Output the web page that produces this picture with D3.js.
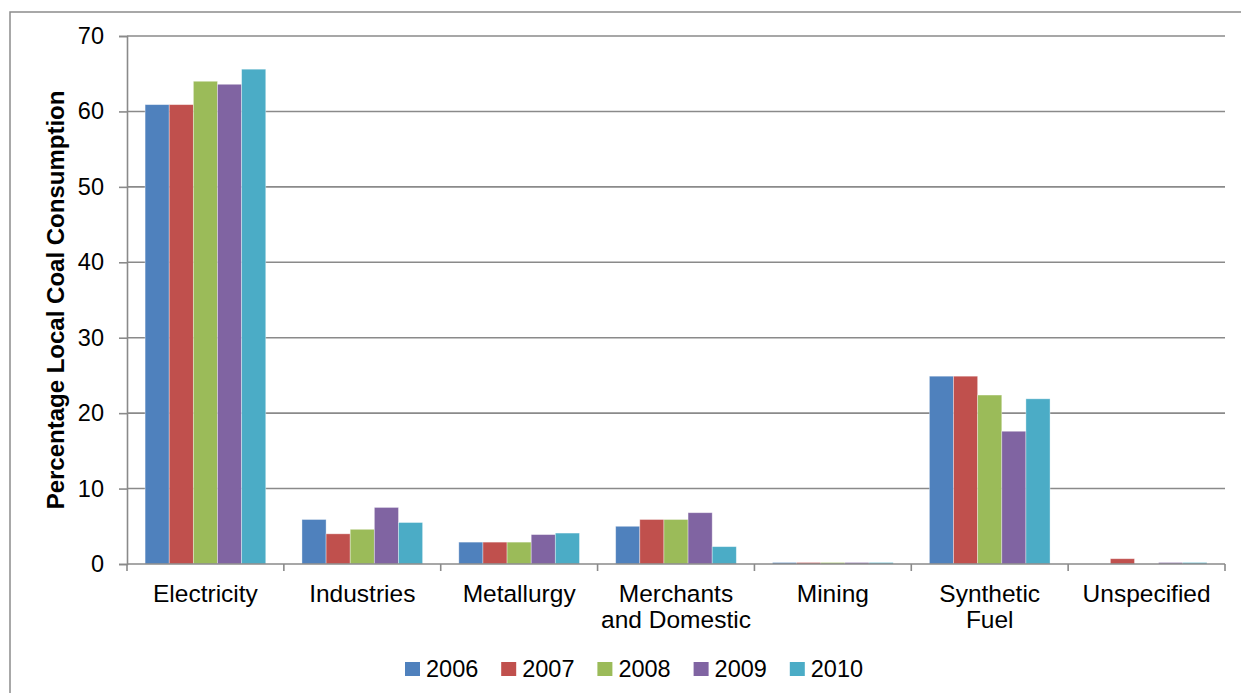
<!DOCTYPE html>
<html>
<head>
<meta charset="utf-8">
<script src="https://cdn.jsdelivr.net/npm/d3@7"></script>
<style>
  html, body { margin: 0; padding: 0; background: #fff; }
  svg { display: block; font-family: "Liberation Sans", Arial, sans-serif; }
</style>
</head>
<body>
<svg id="chart" width="1241" height="693"></svg>
<script>
// Categories (second line of a label after "\n")
const categories = ["Electricity", "Industries", "Metallurgy", "Merchants\nand Domestic", "Mining", "Synthetic\nFuel", "Unspecified"];
const years = ["2006", "2007", "2008", "2009", "2010"];
const yearColors = ["#4F81BD", "#C0504D", "#9BBB59", "#8064A2", "#4BACC6"];

// Share of local coal consumption (%) per year, in category order
const v2006 = [60.9, 5.9, 2.9, 5.0, 0.2, 24.9, 0.0];
const v2007 = [60.9, 4.0, 2.9, 5.9, 0.2, 24.9, 0.7];
const v2008 = [64.0, 4.6, 2.9, 5.9, 0.2, 22.4, 0.0];
const v2009 = [63.6, 7.5, 3.9, 6.8, 0.2, 17.6, 0.2];
const v2010 = [65.6, 5.5, 4.1, 2.3, 0.2, 21.9, 0.2];
const yTicks = [0, 10, 20, 30, 40, 50, 60, 70];

const series = [v2006, v2007, v2008, v2009, v2010];

const svg = d3.select("#chart");
const plot = { left: 127, right: 1225, top: 36, bottom: 564 };

// outer chart frame
svg.append("rect")
  .attr("x", 10).attr("y", 12)
  .attr("width", 1400).attr("height", 900)
  .attr("fill", "none").attr("stroke", "#8c8c8c").attr("stroke-width", 1.5);

const y = d3.scaleLinear().domain([0, 70]).range([plot.bottom, plot.top]);
const gap = 1.5 / 6.5;
const x0 = d3.scaleBand().domain(d3.range(categories.length))
  .range([plot.left, plot.right]).paddingInner(gap).paddingOuter(gap / 2);
const x1 = d3.scaleBand().domain(d3.range(years.length)).range([0, x0.bandwidth()]);

// horizontal gridlines
svg.append("g").selectAll("line").data(yTicks.filter(t => t > 0)).join("line")
  .attr("x1", plot.left).attr("x2", plot.right)
  .attr("y1", d => y(d)).attr("y2", d => y(d))
  .attr("stroke", "#8a8a8a").attr("stroke-width", 1.6);

// y axis
const yAxis = d3.axisLeft(y).tickValues(yTicks).tickSize(8).tickPadding(15);
const gy = svg.append("g").attr("transform", `translate(${plot.left},0)`).call(yAxis);
gy.select(".domain").attr("stroke", "#8a8a8a").attr("stroke-width", 1.6);
gy.selectAll(".tick line").attr("stroke", "#8a8a8a").attr("stroke-width", 1.6);
gy.selectAll(".tick text").attr("font-size", 23.5).attr("fill", "#000")
  .attr("font-family", "Liberation Sans, Arial, sans-serif");

// bars
const groups = svg.append("g").selectAll("g").data(categories).join("g")
  .attr("transform", (d, i) => `translate(${x0(i)},0)`);
groups.selectAll("rect")
  .data((d, i) => series.map((s, k) => ({ k, v: s[i] })))
  .join("rect")
  .attr("x", d => x1(d.k))
  .attr("width", x1.bandwidth())
  .attr("y", d => y(d.v))
  .attr("height", d => y(0) - y(d.v))
  .attr("fill", d => yearColors[d.k])
  .attr("stroke", d => d.v > 0 ? "rgba(255,255,255,0.45)" : "none")
  .attr("stroke-width", 0.8);

// x axis baseline and category dividers
const step = x0.step();
svg.append("line")
  .attr("x1", plot.left).attr("x2", plot.right)
  .attr("y1", y(0)).attr("y2", y(0))
  .attr("stroke", "#8a8a8a").attr("stroke-width", 1.6);
svg.append("g").selectAll("line").data(d3.range(categories.length + 1)).join("line")
  .attr("x1", i => plot.left + i * step).attr("x2", i => plot.left + i * step)
  .attr("y1", y(0)).attr("y2", y(0) + 7)
  .attr("stroke", "#8a8a8a").attr("stroke-width", 1.6);

// category labels, one text element per line
const labelLines = [];
categories.forEach((c, i) => c.split("\n").forEach((line, j) => labelLines.push({ i, j, line })));
svg.append("g").selectAll("text").data(labelLines).join("text")
  .attr("x", d => x0(d.i) + x0.bandwidth() / 2)
  .attr("y", d => 602 + d.j * 26)
  .attr("text-anchor", "middle")
  .attr("font-size", 24.5)
  .attr("fill", "#000")
  .text(d => d.line);

// y axis title
svg.append("text")
  .attr("transform", `translate(64,${(plot.top + plot.bottom) / 2}) rotate(-90)`)
  .attr("text-anchor", "middle")
  .attr("font-size", 24).attr("font-weight", "bold").attr("fill", "#000")
  .text("Percentage Local Coal Consumption");

// legend
const legend = svg.append("g").attr("transform", "translate(405,662)");
const li = legend.selectAll("g").data(years).join("g")
  .attr("transform", (d, i) => `translate(${i * 96.2},0)`);
li.append("rect").attr("width", 15).attr("height", 14).attr("fill", (d, i) => yearColors[i]);
li.append("text").attr("x", 21).attr("y", 15)
  .attr("font-size", 23.5).attr("fill", "#000").text(d => d);
</script>
</body>
</html>
